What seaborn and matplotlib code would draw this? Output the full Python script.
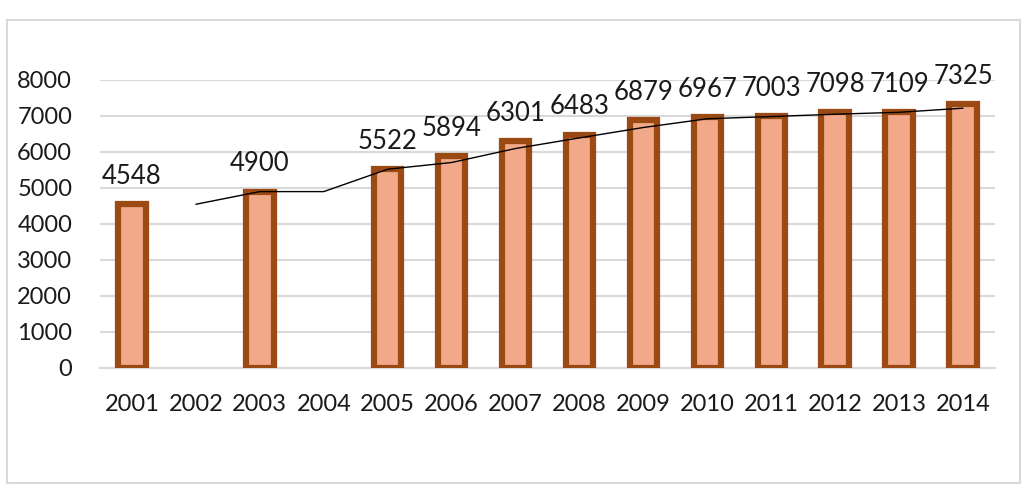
import numpy as np
import pandas as pd
import matplotlib
matplotlib.use("Agg")
import matplotlib.pyplot as plt
import seaborn as sns
from matplotlib.patches import Rectangle

years = ["2001", "2002", "2003", "2004", "2005", "2006", "2007",
         "2008", "2009", "2010", "2011", "2012", "2013", "2014"]
values = [4548, np.nan, 4900, np.nan, 5522, 5894, 6301,
          6483, 6879, 6967, 7003, 7098, 7109, 7325]
trend_years = ["2002", "2003", "2004", "2005", "2006", "2007", "2008",
               "2009", "2010", "2011", "2012", "2013", "2014"]
trend_values = [4548, 4900, 4900, 5522, 5708, 6097, 6392,
                6681, 6923, 6985, 7050, 7103, 7217]
yticks = [0, 1000, 2000, 3000, 4000, 5000, 6000, 7000, 8000]

sns.set_theme(style="white")
plt.rcParams["font.family"] = ["Lato", "DejaVu Sans"]

df = pd.DataFrame({"year": years, "value": values})
tdf = pd.DataFrame({"year": trend_years, "value": trend_values})

fig = plt.figure(figsize=(10.24, 4.91), dpi=100)
ax = fig.add_axes([100/1024, 1-368/491, 895/1024, 288/491])

sns.barplot(data=df, x="year", y="value", order=years, ax=ax,
            color="#F2A98A", width=0.43, linewidth=4.5,
            edgecolor="#9C4A14", saturation=1, zorder=3)
sns.lineplot(data=tdf, x="year", y="value", ax=ax, color="black",
             linewidth=1.0, sort=False, zorder=4)

ax.set_ylim(0, 8000)
ax.set_xlim(-0.5, len(years) - 0.5)
ax.set_yticks(yticks)
ax.set_yticklabels([str(v) for v in yticks])
ax.set_xlabel("")
ax.set_ylabel("")
ax.yaxis.grid(True, color="#D9D9D9", linewidth=1.5, zorder=0)
ax.set_axisbelow(True)
for s in ["top", "right", "left"]:
    ax.spines[s].set_visible(False)
ax.spines["bottom"].set_color("#D9D9D9")
ax.spines["bottom"].set_linewidth(1.5)
ax.tick_params(axis="both", length=0, labelsize=17, colors="#1a1a1a")
ax.tick_params(axis="y", pad=20)
ax.tick_params(axis="x", pad=19)

for i, v in enumerate(values):
    if not np.isnan(v):
        ax.annotate(str(int(v)), (i, v), xytext=(0, 11), textcoords="offset points",
                    ha="center", va="bottom", fontsize=18.5, color="#1a1a1a",
                    annotation_clip=False)

fig.patches.append(Rectangle((7/1024, 1-483/491), 1013/1024, 463/491,
                             transform=fig.transFigure, fill=False,
                             edgecolor="#D9D9D9", linewidth=1.5))

fig.savefig("out.png", dpi=100, facecolor="white")
